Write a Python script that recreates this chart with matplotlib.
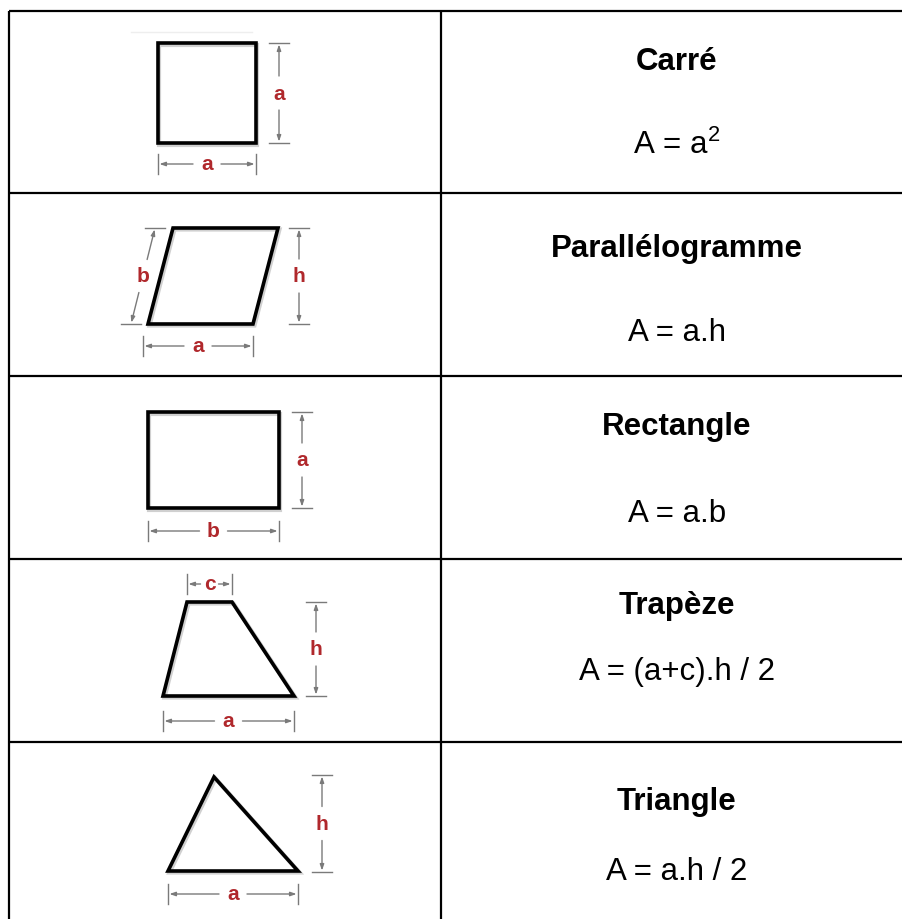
import matplotlib
matplotlib.use('Agg')
import matplotlib.pyplot as plt
from matplotlib import rcParams

rcParams['font.family'] = 'sans-serif'
rcParams['font.sans-serif'] = ['Liberation Sans', 'Arial', 'DejaVu Sans']
rcParams['mathtext.default'] = 'regular'

# table content
names = ['Carré', 'Parallélogramme', 'Rectangle', 'Trapèze', 'Triangle']
formulas = ['A = a$^{2}$', 'A = a.h', 'A = a.b', 'A = (a+c).h / 2', 'A = a.h / 2']
name_base = [70, 257, 435, 614, 810]
formula_base = [154, 341, 522, 680, 880]

# table grid (pixels)
col_x = [9, 441]
row_y = [12, 194, 377, 560, 743]

# shape outlines (pixel coords)
shapes = [
    [(158, 44), (256, 44), (256, 144), (158, 144)],
    [(173, 229), (278, 229), (253, 325), (148, 325)],
    [(148, 413), (279, 413), (279, 509), (148, 509)],
    [(187, 603), (232, 603), (294, 697), (163, 697)],
    [(214, 778), (298, 872), (168, 872)],
]

# dimension lines: (start, end, label, tick direction)
dims = [
    ((158, 165), (256, 165), 'a', 'v'),
    ((279, 44), (279, 144), 'a', 'h'),
    ((143, 347), (253, 347), 'a', 'v'),
    ((299, 229), (299, 325), 'h', 'h'),
    ((155, 229), (131, 325), 'b', 'h'),
    ((148, 532), (279, 532), 'b', 'v'),
    ((302, 413), (302, 509), 'a', 'h'),
    ((187, 585), (232, 585), 'c', 'v'),
    ((316, 603), (316, 697), 'h', 'h'),
    ((163, 722), (294, 722), 'a', 'v'),
    ((322, 776), (322, 873), 'h', 'h'),
    ((168, 895), (298, 895), 'a', 'v'),
]

W, H = 903, 920
fig = plt.figure(figsize=(W/100, H/100), dpi=100)
ax = fig.add_axes([0, 0, 1, 1])
ax.set_xlim(0, W)
ax.set_ylim(H, 0)
ax.axis('off')

# grid
for x in col_x:
    ax.plot([x, x], [row_y[0], H + 5], color='black', lw=1.6, solid_capstyle='butt')
for y in row_y:
    ax.plot([col_x[0], W + 5], [y, y], color='black', lw=1.6, solid_capstyle='butt')

# faint line above the square picture
ax.plot([131, 252], [33, 33], color='#eeeeee', lw=1)

for pts in shapes:
    poly = plt.Polygon(pts, closed=True, fill=False, edgecolor='black', lw=2.6,
                       joinstyle='miter')
    shadow = plt.Polygon([(p[0]+1.5, p[1]+1.5) for p in pts], closed=True, fill=False,
                         edgecolor='#d0d0d0', lw=3.0, joinstyle='miter')
    ax.add_patch(shadow)
    ax.add_patch(poly)

gray = '#7a7a7a'
red = '#b0282c'
for (p0, p1, lab, td) in dims:
    x0, y0 = p0
    x1, y1 = p1
    mx, my = (x0 + x1) / 2, (y0 + y1) / 2
    L = ((x1 - x0)**2 + (y1 - y0)**2) ** 0.5
    ux, uy = (x1 - x0) / L, (y1 - y0) / L
    if L < 60:
        gap = 9
    elif td == 'h':
        gap = 17
    else:
        gap = 14
    for (ex, ey, s) in [(x0, y0, -1), (x1, y1, 1)]:
        ax.annotate('', xy=(ex, ey), xytext=(mx + s*gap*ux, my + s*gap*uy),
                    arrowprops=dict(arrowstyle='-|>,head_length=0.35,head_width=0.12',
                                    color=gray, lw=1.0, shrinkA=0, shrinkB=1))
        if td == 'v':
            ax.plot([ex, ex], [ey - 10, ey + 10], color=gray, lw=1.0)
        else:
            ax.plot([ex - 10, ex + 10], [ey, ey], color=gray, lw=1.0)
    ax.text(mx, my, lab, color=red, fontsize=15, fontweight='bold',
            ha='center', va='center')

cx = 677
for n, f, nb, fb in zip(names, formulas, name_base, formula_base):
    ax.text(cx, nb, n, fontsize=22.5, fontweight='bold', ha='center', va='baseline')
    ax.text(cx, fb, f, fontsize=22.5, ha='center', va='baseline')

fig.savefig('out.png', dpi=100, facecolor='white')
